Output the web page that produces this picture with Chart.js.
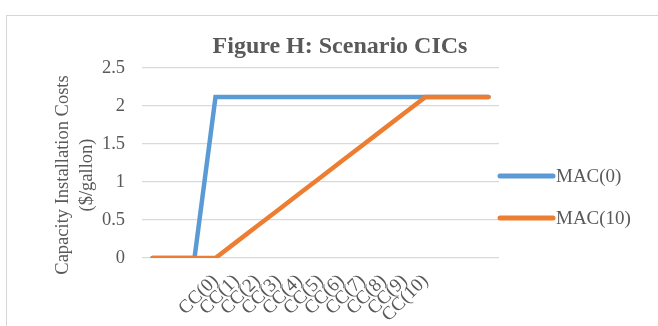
<!DOCTYPE html>
<html>
<head>
<meta charset="utf-8">
<script src="https://cdn.jsdelivr.net/npm/chart.js@4/dist/chart.umd.min.js"></script>
<style>
  html, body { margin: 0; padding: 0; background: #fff; overflow: hidden; }
  #wrap { position: relative; width: 658px; height: 326px; }
  #frame { position: absolute; left: 6px; top: 15px; width: 700px; height: 400px; border: 1px solid #d6d6d6; box-sizing: border-box; }
  canvas { position: absolute; left: 0; top: 0; }
</style>
</head>
<body>
<div id="wrap">
  <div id="frame"></div>
  <canvas id="chart" width="658" height="326"></canvas>
</div>
<script>
// Category slots along the x axis (blank slots pad both ends)
const categories = ['', '', '', 'CC(0)', 'CC(1)', 'CC(2)', 'CC(3)', 'CC(4)', 'CC(5)',
  'CC(6)', 'CC(7)', 'CC(8)', 'CC(9)', 'CC(10)', '', '', ''];

// Capacity installation costs, $/gallon
const mac0 = [0, 0, 0, 2.12, 2.12, 2.12, 2.12, 2.12, 2.12, 2.12, 2.12, 2.12, 2.12, 2.12, 2.12, 2.12, 2.12];
const mac10 = [0, 0, 0, 0, 0.212, 0.424, 0.636, 0.848, 1.06, 1.272, 1.484, 1.696, 1.908, 2.12, 2.12, 2.12, 2.12];

const yTicks = [0, 0.5, 1, 1.5, 2, 2.5];
const yTickLabels = ['0', '0.5', '1', '1.5', '2', '2.5'];
const seriesNames = ['MAC(0)', 'MAC(10)'];
const chartTitle = 'Figure H: Scenario CICs';
const yTitle = ['Capacity Installation Costs', '($/gallon)'];

const SERIF = '"Liberation Serif", "Times New Roman", serif';
const INK = '#595959';

// Rotated two-line axis title on the left
const yTitlePlugin = {
  id: 'yTitle',
  afterDraw(chart) {
    const ctx = chart.ctx;
    ctx.save();
    ctx.fillStyle = INK;
    ctx.font = '18.5px ' + SERIF;
    ctx.textAlign = 'center';
    ctx.textBaseline = 'middle';
    const cy = 175;
    [63, 87].forEach((x, i) => {
      ctx.save();
      ctx.translate(x, cy);
      ctx.rotate(-Math.PI / 2);
      ctx.fillText(yTitle[i], 0, 0);
      ctx.restore();
    });
    ctx.restore();
  }
};

// Legend to the right of the plot: thick line swatch + label
const sideLegend = {
  id: 'sideLegend',
  afterDraw(chart) {
    const ctx = chart.ctx;
    const x0 = chart.chartArea.right;
    const rows = [176, 218];
    ctx.save();
    chart.data.datasets.forEach((ds, i) => {
      const y = rows[i];
      ctx.strokeStyle = ds.borderColor;
      ctx.lineWidth = 5;
      ctx.lineCap = 'round';
      ctx.beginPath();
      ctx.moveTo(x0 + 1, y);
      ctx.lineTo(x0 + 54, y);
      ctx.stroke();
      ctx.fillStyle = INK;
      ctx.font = '19px ' + SERIF;
      ctx.textAlign = 'left';
      ctx.textBaseline = 'middle';
      ctx.fillText(ds.label, x0 + 57, y + 1);
    });
    ctx.restore();
  }
};

new Chart(document.getElementById('chart'), {
  type: 'line',
  data: {
    labels: categories,
    datasets: [
      {
        label: seriesNames[0],
        data: mac0,
        borderColor: '#5b9bd5',
        backgroundColor: '#5b9bd5',
        borderWidth: 4.5,
        borderCapStyle: 'round',
        pointRadius: 0,
        tension: 0,
        order: 2
      },
      {
        label: seriesNames[1],
        data: mac10,
        borderColor: '#ed7d31',
        backgroundColor: '#ed7d31',
        borderWidth: 4.5,
        borderCapStyle: 'round',
        pointRadius: 0,
        tension: 0,
        order: 1
      }
    ]
  },
  options: {
    responsive: false,
    animation: false,
    layout: { padding: { left: 22, right: 0, top: 0, bottom: 0 } },
    plugins: {
      legend: { display: false },
      tooltip: { enabled: false },
      title: {
        display: true,
        text: chartTitle,
        color: INK,
        font: { family: SERIF, size: 24, weight: 'bold', lineHeight: 1.2 },
        padding: { top: 32, bottom: 7.2 }
      }
    },
    scales: {
      x: {
        offset: true,
        grid: { display: false, drawTicks: false },
        border: { display: false },
        ticks: {
          autoSkip: false,
          maxRotation: 45,
          minRotation: 45,
          padding: 12,
          color: INK,
          font: { family: SERIF, size: 19 }
        },
        afterFit(s) { s.height = 68; }
      },
      y: {
        min: 0,
        max: 2.5,
        afterBuildTicks(s) { s.ticks = yTicks.map(v => ({ value: v })); },
        grid: { color: '#d9d9d9', lineWidth: 1.3, drawTicks: false },
        border: { display: false },
        ticks: {
          padding: 17,
          color: INK,
          font: { family: SERIF, size: 18.5 },
          callback: (v, i) => yTickLabels[i]
        },
        afterFit(s) { s.width = 120; }
      },
      side: {
        position: 'right',
        display: true,
        grid: { display: false, drawTicks: false },
        border: { display: false },
        ticks: { display: false },
        afterFit(s) { s.width = 159; }
      }
    }
  },
  plugins: [yTitlePlugin, sideLegend]
});
</script>
</body>
</html>
